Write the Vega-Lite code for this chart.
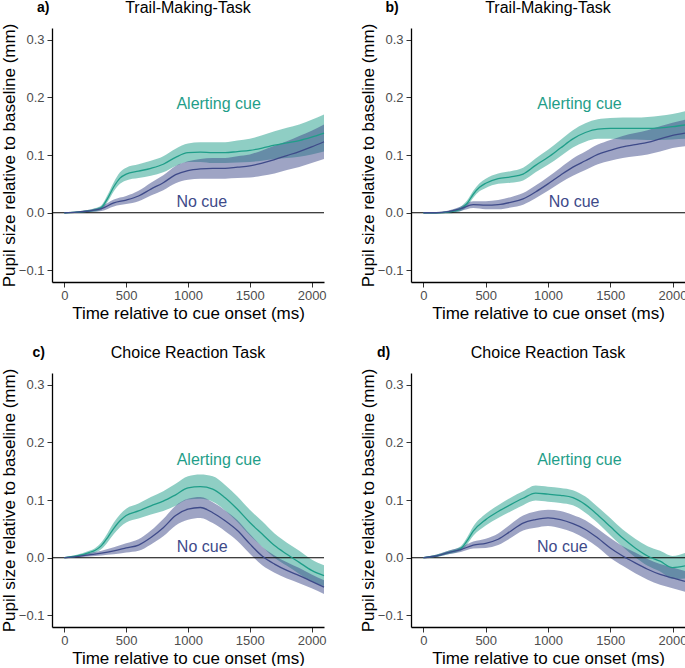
{
  "$schema": "https://vega.github.io/schema/vega-lite/v6.json",
  "padding": {"left": 0, "top": 0, "right": 0, "bottom": 0},
  "background": "white",
  "config": {
    "view": {"stroke": null},
    "font": "Liberation Sans",
    "axis": {"grid": false, "domainColor": "black", "domainWidth": 1.3, "tickColor": "#333333", "tickSize": 5, "tickWidth": 1, "labelFont": "Liberation Sans", "labelFontSize": 13, "labelColor": "#4d4d4d", "titleFont": "Liberation Sans", "titleFontSize": 17, "titleFontWeight": "normal", "titleColor": "black"},
    "axisX": {"labelPadding": 2, "titlePadding": 3},
    "axisY": {"labelPadding": 3, "titlePadding": 0},
    "text": {"font": "Liberation Sans"}
  },
  "datasets": {
    "pupil": [
      {"p":"a","c":"Alerting cue","t":0,"m":0,"lo":-0.001,"hi":0.001},
      {"p":"a","c":"Alerting cue","t":100,"m":0.001,"lo":0,"hi":0.002},
      {"p":"a","c":"Alerting cue","t":200,"m":0.003,"lo":0.001,"hi":0.005},
      {"p":"a","c":"Alerting cue","t":250,"m":0.005,"lo":0.002,"hi":0.008},
      {"p":"a","c":"Alerting cue","t":300,"m":0.009,"lo":0.005,"hi":0.013},
      {"p":"a","c":"Alerting cue","t":350,"m":0.025,"lo":0.019,"hi":0.031},
      {"p":"a","c":"Alerting cue","t":400,"m":0.045,"lo":0.037,"hi":0.053},
      {"p":"a","c":"Alerting cue","t":450,"m":0.060,"lo":0.050,"hi":0.070},
      {"p":"a","c":"Alerting cue","t":500,"m":0.067,"lo":0.056,"hi":0.078},
      {"p":"a","c":"Alerting cue","t":600,"m":0.072,"lo":0.060,"hi":0.084},
      {"p":"a","c":"Alerting cue","t":700,"m":0.077,"lo":0.064,"hi":0.090},
      {"p":"a","c":"Alerting cue","t":800,"m":0.084,"lo":0.070,"hi":0.098},
      {"p":"a","c":"Alerting cue","t":900,"m":0.096,"lo":0.081,"hi":0.111},
      {"p":"a","c":"Alerting cue","t":1000,"m":0.104,"lo":0.088,"hi":0.120},
      {"p":"a","c":"Alerting cue","t":1100,"m":0.105,"lo":0.088,"hi":0.122},
      {"p":"a","c":"Alerting cue","t":1200,"m":0.104,"lo":0.086,"hi":0.122},
      {"p":"a","c":"Alerting cue","t":1300,"m":0.104,"lo":0.086,"hi":0.122},
      {"p":"a","c":"Alerting cue","t":1400,"m":0.106,"lo":0.087,"hi":0.125},
      {"p":"a","c":"Alerting cue","t":1500,"m":0.108,"lo":0.088,"hi":0.128},
      {"p":"a","c":"Alerting cue","t":1600,"m":0.112,"lo":0.090,"hi":0.134},
      {"p":"a","c":"Alerting cue","t":1700,"m":0.117,"lo":0.093,"hi":0.141},
      {"p":"a","c":"Alerting cue","t":1800,"m":0.121,"lo":0.095,"hi":0.147},
      {"p":"a","c":"Alerting cue","t":1900,"m":0.125,"lo":0.097,"hi":0.153},
      {"p":"a","c":"Alerting cue","t":2000,"m":0.131,"lo":0.101,"hi":0.161},
      {"p":"a","c":"Alerting cue","t":2100,"m":0.138,"lo":0.106,"hi":0.170},
      {"p":"a","c":"No cue","t":0,"m":0,"lo":-0.001,"hi":0.001},
      {"p":"a","c":"No cue","t":100,"m":0.001,"lo":0,"hi":0.002},
      {"p":"a","c":"No cue","t":200,"m":0.003,"lo":0.001,"hi":0.005},
      {"p":"a","c":"No cue","t":300,"m":0.007,"lo":0.003,"hi":0.011},
      {"p":"a","c":"No cue","t":400,"m":0.017,"lo":0.011,"hi":0.023},
      {"p":"a","c":"No cue","t":500,"m":0.022,"lo":0.015,"hi":0.029},
      {"p":"a","c":"No cue","t":600,"m":0.029,"lo":0.020,"hi":0.038},
      {"p":"a","c":"No cue","t":700,"m":0.041,"lo":0.030,"hi":0.052},
      {"p":"a","c":"No cue","t":800,"m":0.052,"lo":0.039,"hi":0.065},
      {"p":"a","c":"No cue","t":900,"m":0.066,"lo":0.051,"hi":0.081},
      {"p":"a","c":"No cue","t":1000,"m":0.073,"lo":0.057,"hi":0.089},
      {"p":"a","c":"No cue","t":1100,"m":0.076,"lo":0.059,"hi":0.093},
      {"p":"a","c":"No cue","t":1200,"m":0.077,"lo":0.059,"hi":0.095},
      {"p":"a","c":"No cue","t":1300,"m":0.077,"lo":0.059,"hi":0.095},
      {"p":"a","c":"No cue","t":1400,"m":0.079,"lo":0.060,"hi":0.098},
      {"p":"a","c":"No cue","t":1500,"m":0.081,"lo":0.061,"hi":0.101},
      {"p":"a","c":"No cue","t":1600,"m":0.086,"lo":0.064,"hi":0.108},
      {"p":"a","c":"No cue","t":1700,"m":0.092,"lo":0.068,"hi":0.116},
      {"p":"a","c":"No cue","t":1800,"m":0.099,"lo":0.074,"hi":0.124},
      {"p":"a","c":"No cue","t":1900,"m":0.106,"lo":0.079,"hi":0.133},
      {"p":"a","c":"No cue","t":2000,"m":0.114,"lo":0.086,"hi":0.142},
      {"p":"a","c":"No cue","t":2100,"m":0.123,"lo":0.093,"hi":0.153},

      {"p":"b","c":"Alerting cue","t":0,"m":0,"lo":-0.001,"hi":0.001},
      {"p":"b","c":"Alerting cue","t":100,"m":0,"lo":-0.001,"hi":0.001},
      {"p":"b","c":"Alerting cue","t":200,"m":0.001,"lo":-0.001,"hi":0.003},
      {"p":"b","c":"Alerting cue","t":250,"m":0.003,"lo":0,"hi":0.006},
      {"p":"b","c":"Alerting cue","t":300,"m":0.007,"lo":0.003,"hi":0.011},
      {"p":"b","c":"Alerting cue","t":350,"m":0.016,"lo":0.011,"hi":0.021},
      {"p":"b","c":"Alerting cue","t":400,"m":0.032,"lo":0.026,"hi":0.038},
      {"p":"b","c":"Alerting cue","t":450,"m":0.044,"lo":0.037,"hi":0.051},
      {"p":"b","c":"Alerting cue","t":500,"m":0.051,"lo":0.043,"hi":0.059},
      {"p":"b","c":"Alerting cue","t":600,"m":0.059,"lo":0.050,"hi":0.068},
      {"p":"b","c":"Alerting cue","t":700,"m":0.062,"lo":0.052,"hi":0.072},
      {"p":"b","c":"Alerting cue","t":800,"m":0.067,"lo":0.056,"hi":0.078},
      {"p":"b","c":"Alerting cue","t":900,"m":0.082,"lo":0.070,"hi":0.094},
      {"p":"b","c":"Alerting cue","t":1000,"m":0.096,"lo":0.083,"hi":0.109},
      {"p":"b","c":"Alerting cue","t":1100,"m":0.112,"lo":0.098,"hi":0.126},
      {"p":"b","c":"Alerting cue","t":1200,"m":0.128,"lo":0.113,"hi":0.143},
      {"p":"b","c":"Alerting cue","t":1300,"m":0.139,"lo":0.123,"hi":0.155},
      {"p":"b","c":"Alerting cue","t":1400,"m":0.145,"lo":0.128,"hi":0.162},
      {"p":"b","c":"Alerting cue","t":1500,"m":0.146,"lo":0.128,"hi":0.164},
      {"p":"b","c":"Alerting cue","t":1600,"m":0.146,"lo":0.127,"hi":0.165},
      {"p":"b","c":"Alerting cue","t":1700,"m":0.146,"lo":0.127,"hi":0.165},
      {"p":"b","c":"Alerting cue","t":1800,"m":0.146,"lo":0.126,"hi":0.166},
      {"p":"b","c":"Alerting cue","t":1900,"m":0.147,"lo":0.126,"hi":0.168},
      {"p":"b","c":"Alerting cue","t":2000,"m":0.149,"lo":0.127,"hi":0.171},
      {"p":"b","c":"Alerting cue","t":2100,"m":0.152,"lo":0.128,"hi":0.176},
      {"p":"b","c":"No cue","t":0,"m":0,"lo":-0.001,"hi":0.001},
      {"p":"b","c":"No cue","t":100,"m":0,"lo":-0.001,"hi":0.001},
      {"p":"b","c":"No cue","t":200,"m":0.002,"lo":0,"hi":0.004},
      {"p":"b","c":"No cue","t":300,"m":0.007,"lo":0.003,"hi":0.011},
      {"p":"b","c":"No cue","t":400,"m":0.014,"lo":0.008,"hi":0.020},
      {"p":"b","c":"No cue","t":500,"m":0.013,"lo":0.006,"hi":0.020},
      {"p":"b","c":"No cue","t":600,"m":0.014,"lo":0.006,"hi":0.022},
      {"p":"b","c":"No cue","t":700,"m":0.018,"lo":0.009,"hi":0.027},
      {"p":"b","c":"No cue","t":800,"m":0.024,"lo":0.014,"hi":0.034},
      {"p":"b","c":"No cue","t":900,"m":0.036,"lo":0.025,"hi":0.047},
      {"p":"b","c":"No cue","t":1000,"m":0.050,"lo":0.038,"hi":0.062},
      {"p":"b","c":"No cue","t":1100,"m":0.065,"lo":0.052,"hi":0.078},
      {"p":"b","c":"No cue","t":1200,"m":0.079,"lo":0.064,"hi":0.094},
      {"p":"b","c":"No cue","t":1300,"m":0.090,"lo":0.074,"hi":0.106},
      {"p":"b","c":"No cue","t":1400,"m":0.101,"lo":0.084,"hi":0.118},
      {"p":"b","c":"No cue","t":1500,"m":0.108,"lo":0.090,"hi":0.126},
      {"p":"b","c":"No cue","t":1600,"m":0.114,"lo":0.095,"hi":0.133},
      {"p":"b","c":"No cue","t":1700,"m":0.118,"lo":0.098,"hi":0.138},
      {"p":"b","c":"No cue","t":1800,"m":0.122,"lo":0.101,"hi":0.143},
      {"p":"b","c":"No cue","t":1900,"m":0.128,"lo":0.106,"hi":0.150},
      {"p":"b","c":"No cue","t":2000,"m":0.134,"lo":0.112,"hi":0.156},
      {"p":"b","c":"No cue","t":2100,"m":0.138,"lo":0.115,"hi":0.161},

      {"p":"c","c":"Alerting cue","t":0,"m":0,"lo":-0.001,"hi":0.001},
      {"p":"c","c":"Alerting cue","t":100,"m":0.003,"lo":0.001,"hi":0.005},
      {"p":"c","c":"Alerting cue","t":200,"m":0.009,"lo":0.006,"hi":0.012},
      {"p":"c","c":"Alerting cue","t":250,"m":0.013,"lo":0.009,"hi":0.017},
      {"p":"c","c":"Alerting cue","t":300,"m":0.021,"lo":0.015,"hi":0.027},
      {"p":"c","c":"Alerting cue","t":350,"m":0.035,"lo":0.027,"hi":0.043},
      {"p":"c","c":"Alerting cue","t":400,"m":0.051,"lo":0.041,"hi":0.061},
      {"p":"c","c":"Alerting cue","t":450,"m":0.064,"lo":0.053,"hi":0.075},
      {"p":"c","c":"Alerting cue","t":500,"m":0.073,"lo":0.061,"hi":0.085},
      {"p":"c","c":"Alerting cue","t":600,"m":0.081,"lo":0.068,"hi":0.094},
      {"p":"c","c":"Alerting cue","t":700,"m":0.090,"lo":0.075,"hi":0.105},
      {"p":"c","c":"Alerting cue","t":800,"m":0.098,"lo":0.081,"hi":0.115},
      {"p":"c","c":"Alerting cue","t":900,"m":0.109,"lo":0.090,"hi":0.128},
      {"p":"c","c":"Alerting cue","t":1000,"m":0.121,"lo":0.101,"hi":0.141},
      {"p":"c","c":"Alerting cue","t":1100,"m":0.123,"lo":0.102,"hi":0.144},
      {"p":"c","c":"Alerting cue","t":1200,"m":0.119,"lo":0.097,"hi":0.141},
      {"p":"c","c":"Alerting cue","t":1300,"m":0.104,"lo":0.082,"hi":0.126},
      {"p":"c","c":"Alerting cue","t":1400,"m":0.084,"lo":0.062,"hi":0.106},
      {"p":"c","c":"Alerting cue","t":1500,"m":0.061,"lo":0.039,"hi":0.083},
      {"p":"c","c":"Alerting cue","t":1600,"m":0.041,"lo":0.019,"hi":0.063},
      {"p":"c","c":"Alerting cue","t":1700,"m":0.021,"lo":0,"hi":0.042},
      {"p":"c","c":"Alerting cue","t":1800,"m":0.006,"lo":-0.014,"hi":0.026},
      {"p":"c","c":"Alerting cue","t":1900,"m":-0.008,"lo":-0.028,"hi":0.012},
      {"p":"c","c":"Alerting cue","t":2000,"m":-0.022,"lo":-0.041,"hi":-0.003},
      {"p":"c","c":"Alerting cue","t":2100,"m":-0.031,"lo":-0.049,"hi":-0.013},
      {"p":"c","c":"No cue","t":0,"m":0,"lo":-0.001,"hi":0.001},
      {"p":"c","c":"No cue","t":100,"m":0.002,"lo":0,"hi":0.004},
      {"p":"c","c":"No cue","t":200,"m":0.005,"lo":0.002,"hi":0.008},
      {"p":"c","c":"No cue","t":300,"m":0.008,"lo":0.004,"hi":0.012},
      {"p":"c","c":"No cue","t":400,"m":0.012,"lo":0.006,"hi":0.018},
      {"p":"c","c":"No cue","t":500,"m":0.017,"lo":0.009,"hi":0.025},
      {"p":"c","c":"No cue","t":600,"m":0.022,"lo":0.012,"hi":0.032},
      {"p":"c","c":"No cue","t":700,"m":0.035,"lo":0.023,"hi":0.047},
      {"p":"c","c":"No cue","t":800,"m":0.052,"lo":0.037,"hi":0.067},
      {"p":"c","c":"No cue","t":900,"m":0.073,"lo":0.056,"hi":0.090},
      {"p":"c","c":"No cue","t":1000,"m":0.084,"lo":0.066,"hi":0.102},
      {"p":"c","c":"No cue","t":1100,"m":0.087,"lo":0.069,"hi":0.105},
      {"p":"c","c":"No cue","t":1200,"m":0.078,"lo":0.060,"hi":0.096},
      {"p":"c","c":"No cue","t":1300,"m":0.064,"lo":0.046,"hi":0.082},
      {"p":"c","c":"No cue","t":1400,"m":0.047,"lo":0.029,"hi":0.065},
      {"p":"c","c":"No cue","t":1500,"m":0.024,"lo":0.007,"hi":0.041},
      {"p":"c","c":"No cue","t":1600,"m":0.003,"lo":-0.013,"hi":0.019},
      {"p":"c","c":"No cue","t":1700,"m":-0.011,"lo":-0.026,"hi":0.004},
      {"p":"c","c":"No cue","t":1800,"m":-0.022,"lo":-0.036,"hi":-0.008},
      {"p":"c","c":"No cue","t":1900,"m":-0.031,"lo":-0.044,"hi":-0.018},
      {"p":"c","c":"No cue","t":2000,"m":-0.041,"lo":-0.053,"hi":-0.029},
      {"p":"c","c":"No cue","t":2100,"m":-0.051,"lo":-0.063,"hi":-0.039},

      {"p":"d","c":"Alerting cue","t":0,"m":0,"lo":-0.001,"hi":0.001},
      {"p":"d","c":"Alerting cue","t":100,"m":0.003,"lo":0.001,"hi":0.005},
      {"p":"d","c":"Alerting cue","t":200,"m":0.009,"lo":0.006,"hi":0.012},
      {"p":"d","c":"Alerting cue","t":300,"m":0.016,"lo":0.012,"hi":0.020},
      {"p":"d","c":"Alerting cue","t":350,"m":0.029,"lo":0.023,"hi":0.035},
      {"p":"d","c":"Alerting cue","t":400,"m":0.046,"lo":0.038,"hi":0.054},
      {"p":"d","c":"Alerting cue","t":500,"m":0.066,"lo":0.056,"hi":0.076},
      {"p":"d","c":"Alerting cue","t":600,"m":0.080,"lo":0.069,"hi":0.091},
      {"p":"d","c":"Alerting cue","t":700,"m":0.092,"lo":0.080,"hi":0.104},
      {"p":"d","c":"Alerting cue","t":800,"m":0.103,"lo":0.091,"hi":0.115},
      {"p":"d","c":"Alerting cue","t":900,"m":0.112,"lo":0.099,"hi":0.125},
      {"p":"d","c":"Alerting cue","t":1000,"m":0.110,"lo":0.097,"hi":0.123},
      {"p":"d","c":"Alerting cue","t":1100,"m":0.108,"lo":0.095,"hi":0.121},
      {"p":"d","c":"Alerting cue","t":1200,"m":0.104,"lo":0.091,"hi":0.117},
      {"p":"d","c":"Alerting cue","t":1300,"m":0.092,"lo":0.078,"hi":0.106},
      {"p":"d","c":"Alerting cue","t":1400,"m":0.074,"lo":0.060,"hi":0.088},
      {"p":"d","c":"Alerting cue","t":1500,"m":0.054,"lo":0.039,"hi":0.069},
      {"p":"d","c":"Alerting cue","t":1600,"m":0.034,"lo":0.019,"hi":0.049},
      {"p":"d","c":"Alerting cue","t":1700,"m":0.017,"lo":0.001,"hi":0.033},
      {"p":"d","c":"Alerting cue","t":1800,"m":0.003,"lo":-0.014,"hi":0.020},
      {"p":"d","c":"Alerting cue","t":1900,"m":-0.006,"lo":-0.024,"hi":0.012},
      {"p":"d","c":"Alerting cue","t":2000,"m":-0.017,"lo":-0.037,"hi":0.003},
      {"p":"d","c":"Alerting cue","t":2100,"m":-0.014,"lo":-0.036,"hi":0.008},
      {"p":"d","c":"No cue","t":0,"m":0,"lo":-0.001,"hi":0.001},
      {"p":"d","c":"No cue","t":100,"m":0.003,"lo":0.001,"hi":0.005},
      {"p":"d","c":"No cue","t":200,"m":0.009,"lo":0.006,"hi":0.012},
      {"p":"d","c":"No cue","t":300,"m":0.014,"lo":0.010,"hi":0.018},
      {"p":"d","c":"No cue","t":400,"m":0.022,"lo":0.016,"hi":0.028},
      {"p":"d","c":"No cue","t":500,"m":0.025,"lo":0.017,"hi":0.033},
      {"p":"d","c":"No cue","t":600,"m":0.032,"lo":0.022,"hi":0.042},
      {"p":"d","c":"No cue","t":700,"m":0.046,"lo":0.034,"hi":0.058},
      {"p":"d","c":"No cue","t":800,"m":0.060,"lo":0.047,"hi":0.073},
      {"p":"d","c":"No cue","t":900,"m":0.066,"lo":0.052,"hi":0.080},
      {"p":"d","c":"No cue","t":1000,"m":0.069,"lo":0.055,"hi":0.083},
      {"p":"d","c":"No cue","t":1100,"m":0.066,"lo":0.051,"hi":0.081},
      {"p":"d","c":"No cue","t":1200,"m":0.059,"lo":0.044,"hi":0.074},
      {"p":"d","c":"No cue","t":1300,"m":0.049,"lo":0.033,"hi":0.065},
      {"p":"d","c":"No cue","t":1400,"m":0.034,"lo":0.018,"hi":0.050},
      {"p":"d","c":"No cue","t":1500,"m":0.017,"lo":0,"hi":0.034},
      {"p":"d","c":"No cue","t":1600,"m":0.003,"lo":-0.014,"hi":0.020},
      {"p":"d","c":"No cue","t":1700,"m":-0.009,"lo":-0.027,"hi":0.009},
      {"p":"d","c":"No cue","t":1800,"m":-0.020,"lo":-0.038,"hi":-0.002},
      {"p":"d","c":"No cue","t":1900,"m":-0.029,"lo":-0.047,"hi":-0.011},
      {"p":"d","c":"No cue","t":2000,"m":-0.035,"lo":-0.053,"hi":-0.017},
      {"p":"d","c":"No cue","t":2100,"m":-0.041,"lo":-0.059,"hi":-0.023}
    ]
  },
  "vconcat": [
    {
      "hconcat": [
        {
          "width": 272, "height": 254,
          "data": {"name": "pupil"},
          "transform": [{"filter": "datum.p === 'a'"}],
          "layer": [
            {"mark": {"type": "area", "opacity": 0.5, "interpolate": "monotone"},
             "encoding": {
               "x": {"field": "t", "type": "quantitative", "scale": {"domain": [-100, 2100], "nice": false, "zero": false}, "axis": {"values": [0, 500, 1000, 1500, 2000], "format": "d", "title": "Time relative to cue onset (ms)"}},
               "y": {"field": "lo", "type": "quantitative", "scale": {"domain": [-0.12, 0.32], "nice": false, "zero": false}, "axis": {"values": [-0.1, 0, 0.1, 0.2, 0.3], "format": ".1f", "title": "Pupil size relative to baseline (mm)"}},
               "y2": {"field": "hi"},
               "color": {"field": "c", "type": "nominal", "scale": {"domain": ["Alerting cue", "No cue"], "range": ["#1f9e89", "#3e4a89"]}, "legend": null}
             }},
            {"data": {"values": [{}]}, "mark": {"type": "rule", "color": "black", "strokeWidth": 1.2}, "encoding": {"y": {"datum": 0, "type": "quantitative"}}},
            {"mark": {"type": "line", "strokeWidth": 1.3, "interpolate": "monotone"},
             "encoding": {"x": {"field": "t", "type": "quantitative"}, "y": {"field": "m", "type": "quantitative"}, "color": {"field": "c", "type": "nominal"}, "detail": {"field": "c"}}},
            {"data": {"values": [{}]}, "mark": {"type": "text", "fontSize": 16, "color": "#1f9e89"}, "encoding": {"x": {"datum": 1248, "type": "quantitative"}, "y": {"datum": 0.189, "type": "quantitative"}, "text": {"value": "Alerting cue"}}},
            {"data": {"values": [{}]}, "mark": {"type": "text", "fontSize": 16, "color": "#3e4a89"}, "encoding": {"x": {"datum": 1111, "type": "quantitative"}, "y": {"datum": 0.019, "type": "quantitative"}, "text": {"value": "No cue"}}},
            {"data": {"values": [{}]}, "mark": {"type": "text", "fontSize": 14, "fontWeight": "bold", "color": "black"}, "encoding": {"x": {"datum": -171, "type": "quantitative"}, "y": {"datum": 0.354, "type": "quantitative"}, "text": {"value": "a)"}}},
            {"data": {"values": [{}]}, "mark": {"type": "text", "fontSize": 16, "color": "black"}, "encoding": {"x": {"datum": 1000, "type": "quantitative"}, "y": {"datum": 0.354, "type": "quantitative"}, "text": {"value": "Trail-Making-Task"}}}
          ]
        },
        {
          "width": 274, "height": 254,
          "data": {"name": "pupil"},
          "transform": [{"filter": "datum.p === 'b'"}],
          "layer": [
            {"mark": {"type": "area", "opacity": 0.5, "interpolate": "monotone"},
             "encoding": {
               "x": {"field": "t", "type": "quantitative", "scale": {"domain": [-100, 2100], "nice": false, "zero": false}, "axis": {"values": [0, 500, 1000, 1500, 2000], "format": "d", "title": "Time relative to cue onset (ms)"}},
               "y": {"field": "lo", "type": "quantitative", "scale": {"domain": [-0.12, 0.32], "nice": false, "zero": false}, "axis": {"values": [-0.1, 0, 0.1, 0.2, 0.3], "format": ".1f", "title": "Pupil size relative to baseline (mm)"}},
               "y2": {"field": "hi"},
               "color": {"field": "c", "type": "nominal", "scale": {"domain": ["Alerting cue", "No cue"], "range": ["#1f9e89", "#3e4a89"]}, "legend": null}
             }},
            {"data": {"values": [{}]}, "mark": {"type": "rule", "color": "black", "strokeWidth": 1.2}, "encoding": {"y": {"datum": 0, "type": "quantitative"}}},
            {"mark": {"type": "line", "strokeWidth": 1.3, "interpolate": "monotone"},
             "encoding": {"x": {"field": "t", "type": "quantitative"}, "y": {"field": "m", "type": "quantitative"}, "color": {"field": "c", "type": "nominal"}, "detail": {"field": "c"}}},
            {"data": {"values": [{}]}, "mark": {"type": "text", "fontSize": 16, "color": "#1f9e89"}, "encoding": {"x": {"datum": 1253, "type": "quantitative"}, "y": {"datum": 0.188, "type": "quantitative"}, "text": {"value": "Alerting cue"}}},
            {"data": {"values": [{}]}, "mark": {"type": "text", "fontSize": 16, "color": "#3e4a89"}, "encoding": {"x": {"datum": 1210, "type": "quantitative"}, "y": {"datum": 0.018, "type": "quantitative"}, "text": {"value": "No cue"}}},
            {"data": {"values": [{}]}, "mark": {"type": "text", "fontSize": 14, "fontWeight": "bold", "color": "black"}, "encoding": {"x": {"datum": -252, "type": "quantitative"}, "y": {"datum": 0.354, "type": "quantitative"}, "text": {"value": "b)"}}},
            {"data": {"values": [{}]}, "mark": {"type": "text", "fontSize": 16, "color": "black"}, "encoding": {"x": {"datum": 1000, "type": "quantitative"}, "y": {"datum": 0.354, "type": "quantitative"}, "text": {"value": "Trail-Making-Task"}}}
          ]
        }
      ],
      "spacing": 32
    },
    {
      "hconcat": [
        {
          "width": 272, "height": 254,
          "data": {"name": "pupil"},
          "transform": [{"filter": "datum.p === 'c'"}],
          "layer": [
            {"mark": {"type": "area", "opacity": 0.5, "interpolate": "monotone"},
             "encoding": {
               "x": {"field": "t", "type": "quantitative", "scale": {"domain": [-100, 2100], "nice": false, "zero": false}, "axis": {"values": [0, 500, 1000, 1500, 2000], "format": "d", "title": "Time relative to cue onset (ms)"}},
               "y": {"field": "lo", "type": "quantitative", "scale": {"domain": [-0.12, 0.32], "nice": false, "zero": false}, "axis": {"values": [-0.1, 0, 0.1, 0.2, 0.3], "format": ".1f", "title": "Pupil size relative to baseline (mm)"}},
               "y2": {"field": "hi"},
               "color": {"field": "c", "type": "nominal", "scale": {"domain": ["Alerting cue", "No cue"], "range": ["#1f9e89", "#3e4a89"]}, "legend": null}
             }},
            {"data": {"values": [{}]}, "mark": {"type": "rule", "color": "black", "strokeWidth": 1.2}, "encoding": {"y": {"datum": 0, "type": "quantitative"}}},
            {"mark": {"type": "line", "strokeWidth": 1.3, "interpolate": "monotone"},
             "encoding": {"x": {"field": "t", "type": "quantitative"}, "y": {"field": "m", "type": "quantitative"}, "color": {"field": "c", "type": "nominal"}, "detail": {"field": "c"}}},
            {"data": {"values": [{}]}, "mark": {"type": "text", "fontSize": 16, "color": "#1f9e89"}, "encoding": {"x": {"datum": 1250, "type": "quantitative"}, "y": {"datum": 0.169, "type": "quantitative"}, "text": {"value": "Alerting cue"}}},
            {"data": {"values": [{}]}, "mark": {"type": "text", "fontSize": 16, "color": "#3e4a89"}, "encoding": {"x": {"datum": 1115, "type": "quantitative"}, "y": {"datum": 0.018, "type": "quantitative"}, "text": {"value": "No cue"}}},
            {"data": {"values": [{}]}, "mark": {"type": "text", "fontSize": 14, "fontWeight": "bold", "color": "black"}, "encoding": {"x": {"datum": -207, "type": "quantitative"}, "y": {"datum": 0.354, "type": "quantitative"}, "text": {"value": "c)"}}},
            {"data": {"values": [{}]}, "mark": {"type": "text", "fontSize": 16, "color": "black"}, "encoding": {"x": {"datum": 1000, "type": "quantitative"}, "y": {"datum": 0.354, "type": "quantitative"}, "text": {"value": "Choice Reaction Task"}}}
          ]
        },
        {
          "width": 274, "height": 254,
          "data": {"name": "pupil"},
          "transform": [{"filter": "datum.p === 'd'"}],
          "layer": [
            {"mark": {"type": "area", "opacity": 0.5, "interpolate": "monotone"},
             "encoding": {
               "x": {"field": "t", "type": "quantitative", "scale": {"domain": [-100, 2100], "nice": false, "zero": false}, "axis": {"values": [0, 500, 1000, 1500, 2000], "format": "d", "title": "Time relative to cue onset (ms)"}},
               "y": {"field": "lo", "type": "quantitative", "scale": {"domain": [-0.12, 0.32], "nice": false, "zero": false}, "axis": {"values": [-0.1, 0, 0.1, 0.2, 0.3], "format": ".1f", "title": "Pupil size relative to baseline (mm)"}},
               "y2": {"field": "hi"},
               "color": {"field": "c", "type": "nominal", "scale": {"domain": ["Alerting cue", "No cue"], "range": ["#1f9e89", "#3e4a89"]}, "legend": null}
             }},
            {"data": {"values": [{}]}, "mark": {"type": "rule", "color": "black", "strokeWidth": 1.2}, "encoding": {"y": {"datum": 0, "type": "quantitative"}}},
            {"mark": {"type": "line", "strokeWidth": 1.3, "interpolate": "monotone"},
             "encoding": {"x": {"field": "t", "type": "quantitative"}, "y": {"field": "m", "type": "quantitative"}, "color": {"field": "c", "type": "nominal"}, "detail": {"field": "c"}}},
            {"data": {"values": [{}]}, "mark": {"type": "text", "fontSize": 16, "color": "#1f9e89"}, "encoding": {"x": {"datum": 1252, "type": "quantitative"}, "y": {"datum": 0.170, "type": "quantitative"}, "text": {"value": "Alerting cue"}}},
            {"data": {"values": [{}]}, "mark": {"type": "text", "fontSize": 16, "color": "#3e4a89"}, "encoding": {"x": {"datum": 1115, "type": "quantitative"}, "y": {"datum": 0.018, "type": "quantitative"}, "text": {"value": "No cue"}}},
            {"data": {"values": [{}]}, "mark": {"type": "text", "fontSize": 14, "fontWeight": "bold", "color": "black"}, "encoding": {"x": {"datum": -320, "type": "quantitative"}, "y": {"datum": 0.354, "type": "quantitative"}, "text": {"value": "d)"}}},
            {"data": {"values": [{}]}, "mark": {"type": "text", "fontSize": 16, "color": "black"}, "encoding": {"x": {"datum": 1000, "type": "quantitative"}, "y": {"datum": 0.354, "type": "quantitative"}, "text": {"value": "Choice Reaction Task"}}}
          ]
        }
      ],
      "spacing": 32
    }
  ],
  "spacing": 24
}
